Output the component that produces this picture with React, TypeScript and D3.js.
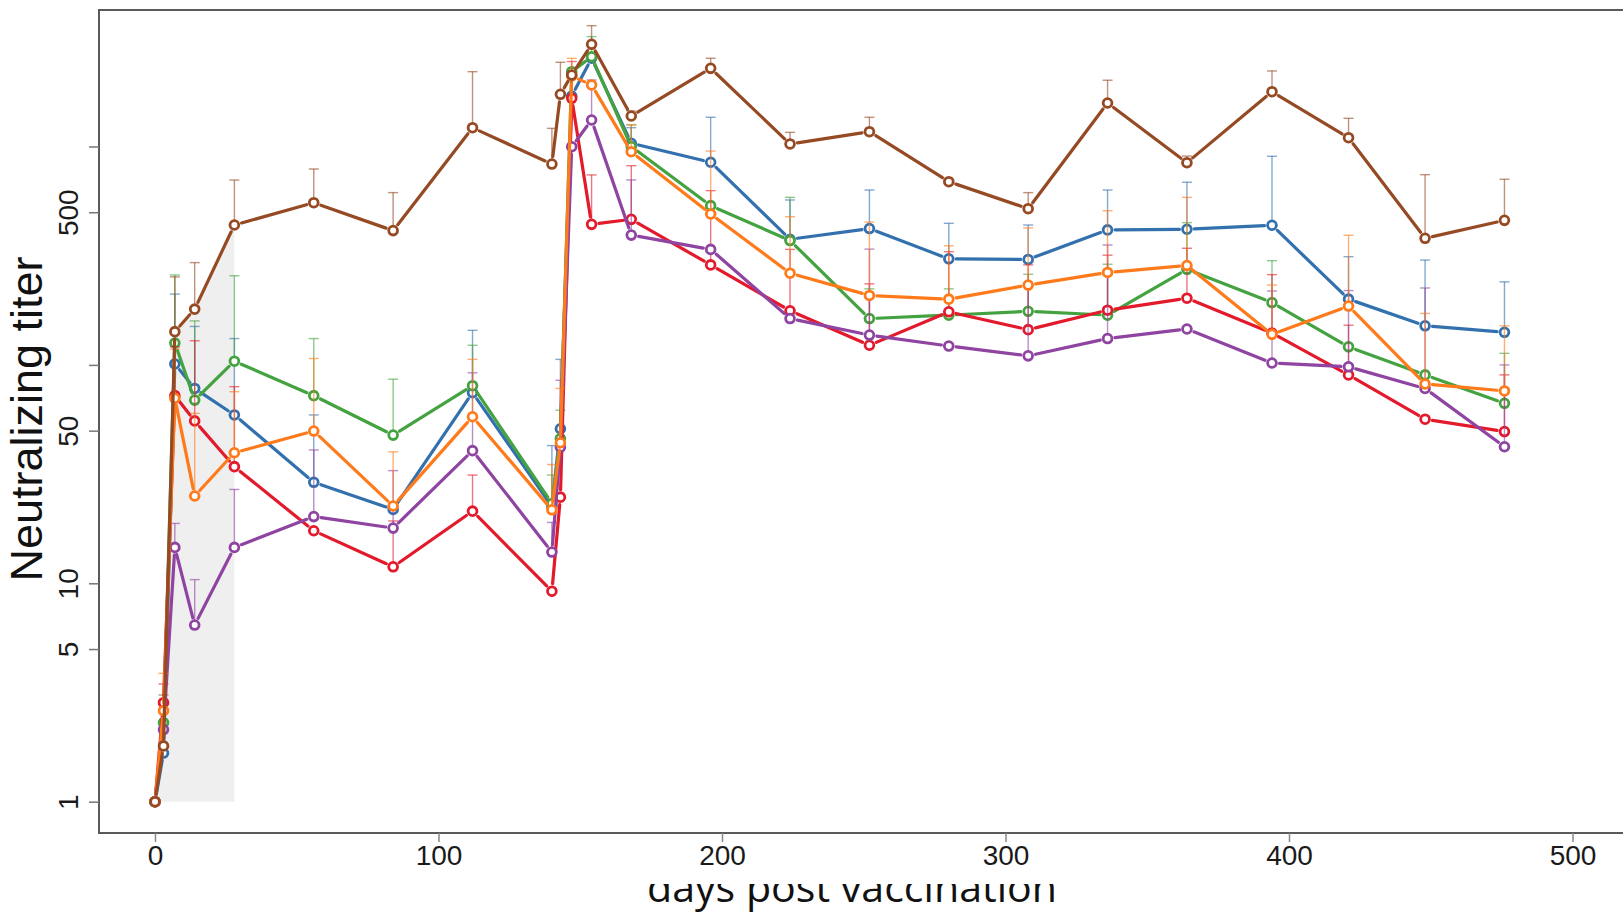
import React, { useEffect, useRef } from "react";
import * as d3 from "d3";

// sampling days (x)
const days = [0, 3, 7, 14, 28, 56, 84, 112, 140, 143, 147, 154, 168, 196, 224, 252, 280, 308, 336, 364, 394, 421, 448, 476];

// mean titers per group, with upper whisker (null = not drawn)
const blueTiter = [1, 1.67, 101, 78, 59, 29, 21.8, 74.6, 22.5, 51, 1703, 2535, 1035, 847, 376, 421, 306, 304, 415, 418, 436, 200, 151, 141];
const blueUpper = [null, null, 211, 150, 132, 59, null, 144, 42.7, 106, null, null, 1219, 1361, 569, 632, 445, 437, 632, 686, 902, 313, 302, 240];

const greenTiter = [1, 2.3, 126, 69, 104, 72.3, 47.7, 80.3, 23.2, 46, 2200, 2577, 999, 536, 371, 163, 169, 176, 169, 274, 193, 121, 90, 66.7];
const greenUpper = [null, null, 258, 159, 256, 132, 86, 123, 31.3, 62, null, 3184, 1258, null, 585, 223, 223, 260, 289, 448, 300, null, null, 113];

const redTiter = [1, 2.84, 72.3, 55.4, 34.2, 17.4, 11.9, 21.4, 9.2, 24.8, 1662, 440, 464, 287, 177, 123, 175, 145, 178, 202, 140, 90, 56.4, 49.5];
const redUpper = [null, 3.46, 121, 129, 79.5, null, 19.3, 31.3, null, null, 2450, 741, 817, 628, 338, 235, 330, 287, 318, 342, 259, 152, null, 90];

const purpleTiter = [1, 2.14, 14.6, 6.44, 14.6, 20.2, 17.9, 40.5, 13.9, 42, 998, 1322, 393, 338, 163, 137, 122, 110, 132, 146, 102, 98, 78, 42.2];
const purpleUpper = [null, null, 18.8, 10.4, 26.9, 40.8, 32.8, 92, 19, 85, null, 2016, 703, null, null, 339, null, 230, 354, null, 218, 219, 225, 100];

const orangeTiter = [1, 2.61, 70.3, 25.1, 39.6, 49.8, 22.6, 57.9, 21.7, 44, 2103, 1913, 946, 491, 263, 208, 200, 232, 265, 285, 138, 186, 81.8, 76];
const orangeUpper = [null, 3.87, 118, 60, 75.4, 107, 40, 106, 35, 78, 2535, null, 1254, 953, 477, 451, 351, 424, 508, 585, 232, 392, 172, 151];

const brownTiter = [1, 1.8, 142, 180, 437, 553, 412, 1219, 831, 1734, 2126, 2938, 1379, 2280, 1027, 1169, 690, 519, 1582, 843, 1782, 1097, 380, 459];
const brownUpper = [null, 3.08, 253, 294, 702, 789, 615, 2201, 1211, 2430, null, 3573, 1454, 2535, 1161, 1361, null, 615, 2011, 904, 2217, 1346, 743, 708];

const xTicks = [0, 100, 200, 300, 400, 500];
const yTicks = [1, 5, 10, 50, 100, 500, 1000];
const yLabels = [1, 5, 10, 50, 500];

const series = [
  { color: "#3370ae", values: blueTiter, upper: blueUpper },
  { color: "#44a340", values: greenTiter, upper: greenUpper },
  { color: "#e31a2c", values: redTiter, upper: redUpper },
  { color: "#8e44a0", values: purpleTiter, upper: purpleUpper },
  { color: "#ff7a1a", values: orangeTiter, upper: orangeUpper },
  { color: "#954a23", values: brownTiter, upper: brownUpper },
];

const WIDTH = 1623;
const HEIGHT = 912;

function TiterChart() {
  const svgRef = useRef<SVGSVGElement>(null);

  useEffect(() => {
    const svg = d3.select(svgRef.current);
    svg.selectAll("*").remove();

    const xScale = d3.scaleLinear().domain([0, 500]).range([155, 1572.5]);
    const yScale = d3.scaleLog().domain([1, 1000]).range([801.7, 146.5]);

    // shaded priming window under the top curve (days 0-28)
    const shade = days.map((d, i) => [d, brownTiter[i]] as [number, number]).filter((p) => p[0] <= 28);
    const area = d3
      .area<[number, number]>()
      .x((p) => xScale(p[0]))
      .y0(yScale(1))
      .y1((p) => yScale(p[1]));
    svg.append("path").attr("d", area(shade)).attr("fill", "#efefef");

    // frame (right edge falls outside the picture)
    svg
      .append("rect")
      .attr("x", 99)
      .attr("y", 10)
      .attr("width", 1700)
      .attr("height", 823)
      .attr("fill", "none")
      .attr("stroke", "#5a5a5a")
      .attr("stroke-width", 2);

    // y axis
    const yAxis = d3
      .axisLeft(yScale)
      .tickValues(yTicks)
      .tickSize(10)
      .tickFormat((d) => (yLabels.includes(+d) ? String(d) : ""));
    svg
      .append("g")
      .attr("transform", "translate(99,0)")
      .call(yAxis)
      .call((g) => g.select(".domain").remove())
      .call((g) => g.selectAll(".tick line").attr("stroke", "#777").attr("stroke-width", 1.5))
      .call((g) =>
        g
          .selectAll(".tick text")
          .attr("transform", "rotate(-90)")
          .attr("x", 0)
          .attr("y", -21)
          .attr("dy", null)
          .attr("text-anchor", "middle")
          .attr("fill", "#1a1a1a")
          .style("font-family", "'Liberation Sans', Arial, sans-serif")
          .style("font-size", "28px")
      );

    // x axis
    const xAxis = d3.axisBottom(xScale).tickValues(xTicks).tickSize(9);
    svg
      .append("g")
      .attr("transform", "translate(0,833)")
      .call(xAxis)
      .call((g) => g.select(".domain").remove())
      .call((g) => g.selectAll(".tick line").attr("stroke", "#888").attr("stroke-width", 1.5))
      .call((g) =>
        g
          .selectAll(".tick text")
          .attr("y", 32)
          .attr("dy", null)
          .attr("fill", "#1a1a1a")
          .style("font-family", "'Liberation Sans', Arial, sans-serif")
          .style("font-size", "28px")
      );

    // titles
    svg
      .append("text")
      .attr("transform", "translate(42,419) rotate(-90)")
      .attr("text-anchor", "middle")
      .style("font-family", "'Liberation Sans', Arial, sans-serif")
      .style("font-size", "45px")
      .attr("fill", "#111")
      .text("Neutralizing titer");

    // x title: only its lower band is visible in the original figure
    svg
      .append("clipPath")
      .attr("id", "xtitle-clip")
      .append("rect")
      .attr("x", 0)
      .attr("y", 884)
      .attr("width", WIDTH)
      .attr("height", 30);
    svg
      .append("text")
      .attr("clip-path", "url(#xtitle-clip)")
      .attr("x", 852)
      .attr("y", 902)
      .attr("text-anchor", "middle")
      .attr("textLength", 410)
      .attr("lengthAdjust", "spacingAndGlyphs")
      .style("font-family", "'Open Sans', sans-serif")
      .style("font-size", "40px")
      .attr("fill", "#111")
      .text("days post vaccination");

    // data
    const gap = 7.5;
    series.forEach((s) => {
      const g = svg.append("g");
      const pts = days.map((d, i) => [xScale(d), yScale(s.values[i])] as [number, number]);

      // upper whiskers
      days.forEach((d, i) => {
        const up = s.upper[i];
        if (up == null) return;
        const x = xScale(d);
        g.append("line")
          .attr("x1", x)
          .attr("x2", x)
          .attr("y1", yScale(s.values[i]))
          .attr("y2", yScale(up))
          .attr("stroke", s.color)
          .attr("stroke-opacity", 0.6)
          .attr("stroke-width", 1.4);
        g.append("line")
          .attr("x1", x - 5)
          .attr("x2", x + 5)
          .attr("y1", yScale(up))
          .attr("y2", yScale(up))
          .attr("stroke", s.color)
          .attr("stroke-opacity", 0.6)
          .attr("stroke-width", 1.4);
      });

      // line segments with gaps at the points
      for (let i = 0; i < pts.length - 1; i++) {
        const [x1, y1] = pts[i];
        const [x2, y2] = pts[i + 1];
        const len = Math.hypot(x2 - x1, y2 - y1);
        if (len <= 2 * gap) continue;
        const ux = (x2 - x1) / len;
        const uy = (y2 - y1) / len;
        g.append("line")
          .attr("x1", x1 + ux * gap)
          .attr("y1", y1 + uy * gap)
          .attr("x2", x2 - ux * gap)
          .attr("y2", y2 - uy * gap)
          .attr("stroke", s.color)
          .attr("stroke-width", 3.2)
          .attr("stroke-linecap", "round");
      }

      g.selectAll("circle")
        .data(pts)
        .join("circle")
        .attr("cx", (p) => p[0])
        .attr("cy", (p) => p[1])
        .attr("r", 4.4)
        .attr("fill", "#fff")
        .attr("stroke", s.color)
        .attr("stroke-width", 2.8);
    });
  }, []);

  return (
    <svg
      ref={svgRef}
      width={WIDTH}
      height={HEIGHT}
      style={{ position: "absolute", left: 0, top: 0, background: "#fff" }}
    />
  );
}

export default function App() {
  return <TiterChart />;
}
